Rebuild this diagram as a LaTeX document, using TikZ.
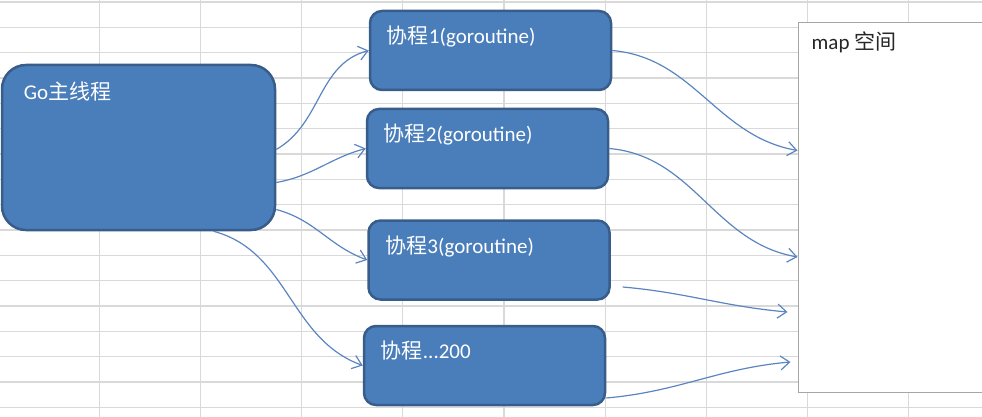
\documentclass[tikz,border=0pt]{standalone}
\usepackage{fontspec}
\setmainfont{Carlito}
\newfontfamily\cjk{Noto Sans CJK SC}
\usetikzlibrary{arrows.meta}
\definecolor{boxfill}{HTML}{4A7EBB}
\definecolor{boxline}{HTML}{385D8A}
\definecolor{arrowblue}{HTML}{5B85C0}
\definecolor{gridgray}{HTML}{D9D9D9}

\begin{document}
\begin{tikzpicture}[x=1pt,y=-1pt,
	>={Straight Barb[length=9pt,width=14pt]},
    gridline/.style = {draw=gridgray, line width=1.2pt},
    mainbox/.style = {rectangle, rounded corners=24pt, draw=boxline,
                      line width=2.5pt, fill=boxfill,
                      minimum width=273pt, minimum height=165pt},
    cobox/.style = {mainbox, rounded corners=12pt,
                    minimum width=241pt, minimum height=79pt},
    mapbox/.style = {rectangle, draw=gray!70, line width=1pt, fill=white,
                     minimum width=204pt, minimum height=369pt},
    boxtext/.style = {anchor=west, inner sep=0pt, text=white,
                      font=\fontsize{21}{25}\selectfont},
    flow/.style = {->, color=arrowblue, line width=1.2pt}]
  \useasboundingbox (0,0) rectangle (982,417);
  \clip (0,0) rectangle (982,417);

  % sheet grid
  \foreach \i in {1,...,9}
    \draw[gridline] ({-2+101.2*\i},0) -- ({-2+101.2*\i},417);
  \foreach \j in {0,...,16}
    \draw[gridline] (0,{2+25.33*\j}) -- (982,{2+25.33*\j});

  \node (main) [mainbox] at (138.5,147.5) {};
  \node (co1) [cobox] at (490.5,50.5) {};
  \node (co2) [cobox] at (487.5,148.5) {};
  \node (co3) [cobox] at (489,260) {};
  \node (co4) [cobox] at (484.5,365.5) {};
  \node (map) [mapbox] at (900,207.5) {};

  \node (maintext) [boxtext] at ([xshift=23pt,yshift=-28pt]main.north west) {Go{\cjk 主线程}};
  \node (co1text) [boxtext] at ([xshift=18pt,yshift=-27pt]co1.north west) {{\cjk 协程}1(goroutine)};
  \node (co2text) [boxtext] at ([xshift=18pt,yshift=-27pt]co2.north west) {{\cjk 协程}2(goroutine)};
  \node (co3text) [boxtext] at ([xshift=18pt,yshift=-27pt]co3.north west) {{\cjk 协程}3(goroutine)};
  \node (co4text) [boxtext] at ([xshift=18pt,yshift=-26pt]co4.north west) {{\cjk 协程}...200};
  \node (maptext) [boxtext, text=black!85] at ([xshift=14pt,yshift=-20pt]map.north west) {map {\cjk 空间}};

  \path[flow]
    ([yshift=-2pt]main.east) edge[out=30,in=195] (co1.west)
    ([yshift=-35pt]main.east) edge[out=10,in=195] (co2.west)
    ([yshift=-62pt]main.east) edge[out=-15,in=160] (co3.west)
    ([xshift=75pt]main.south) edge[out=-15,in=160] (co4.west);

  \path[flow]
    (co1.east) edge[out=-5,in=170] ([yshift=57pt]map.west)
    (co2.east) edge[out=-5,in=170] ([yshift=-49.5pt]map.west)
    ([xshift=12pt,yshift=-27pt]co3.east) edge[out=-5,in=175] ([xshift=-10pt,yshift=-104.5pt]map.west)
    ([yshift=-32.5pt]co4.east) edge[out=5,in=185] ([xshift=-7pt,yshift=-154.5pt]map.west);
\end{tikzpicture}
\end{document}
